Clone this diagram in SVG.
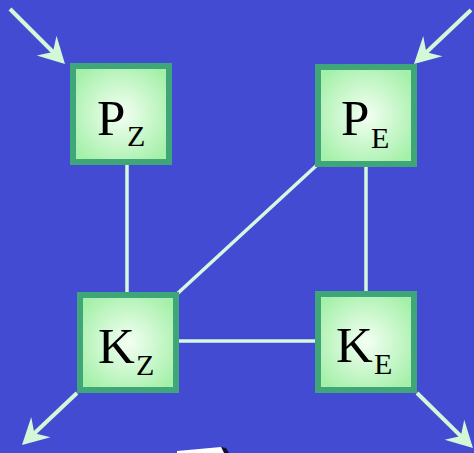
<svg xmlns="http://www.w3.org/2000/svg" width="474" height="453" viewBox="0 0 474 453">
<defs>
<radialGradient id="g" cx="50%" cy="50%" r="60%">
<stop offset="0" stop-color="#F4FFF4"/>
<stop offset="1" stop-color="#A4F0A8"/>
</radialGradient>
<marker id="ah" markerUnits="userSpaceOnUse" viewBox="-28 -16 30 32" markerWidth="30" markerHeight="32" refX="-12" refY="0" orient="auto">
<path d="M0,0 L-26,-14 L-17,0 L-26,14 Z" fill="#D2F8D8"/>
</marker>
<style>
.box{fill:url(#g);stroke:#3FA67A;stroke-width:6}
.t{font-family:"Liberation Serif","Times New Roman",serif;fill:#000}
.m{font-size:51px}
.s{font-size:30px}
.c{stroke:#D6F8DE;stroke-width:3.5;fill:none}
.a{stroke:#D2F8D8;stroke-width:4;fill:none;marker-end:url(#ah)}
</style>
</defs>
<rect width="474" height="453" fill="#434BD3"/>
<g id="connectors">
<line class="c" x1="127" y1="165" x2="127" y2="292"/>
<line class="c" x1="366" y1="167" x2="366" y2="291"/>
<line class="c" x1="179" y1="341" x2="315" y2="341"/>
<line class="c" x1="317" y1="165" x2="177" y2="294"/>
<line class="a" x1="10" y1="9" x2="56.5" y2="55.5"/>
<line class="a" x1="471" y1="10" x2="422.7" y2="55.7"/>
<line class="a" x1="77" y1="393" x2="30.7" y2="436.8"/>
<line class="a" x1="417" y1="393" x2="464.4" y2="439.6"/>
</g>
<g id="PZ">
<rect class="box" x="73" y="66" width="96" height="96"/>
<text class="t m" x="97" y="135">P</text><text class="t s" x="127" y="146">Z</text>
</g>
<g id="PE">
<rect class="box" x="318" y="67" width="96" height="97"/>
<text class="t m" x="341" y="135">P</text><text class="t s" x="371" y="148">E</text>
</g>
<g id="KZ">
<rect class="box" x="80" y="295" width="96" height="95"/>
<text class="t m" x="98" y="363">K</text><text class="t s" x="136" y="375">Z</text>
</g>
<g id="KE">
<rect class="box" x="318" y="294" width="96" height="96"/>
<text class="t m" x="336" y="362">K</text><text class="t s" x="374" y="374">E</text>
</g>
<polygon points="221,447 226,448 229,453 224,453" fill="#101030"/>
<polygon points="177,451 221,447 224,453 177,453" fill="#FFFFFF"/>
</svg>
